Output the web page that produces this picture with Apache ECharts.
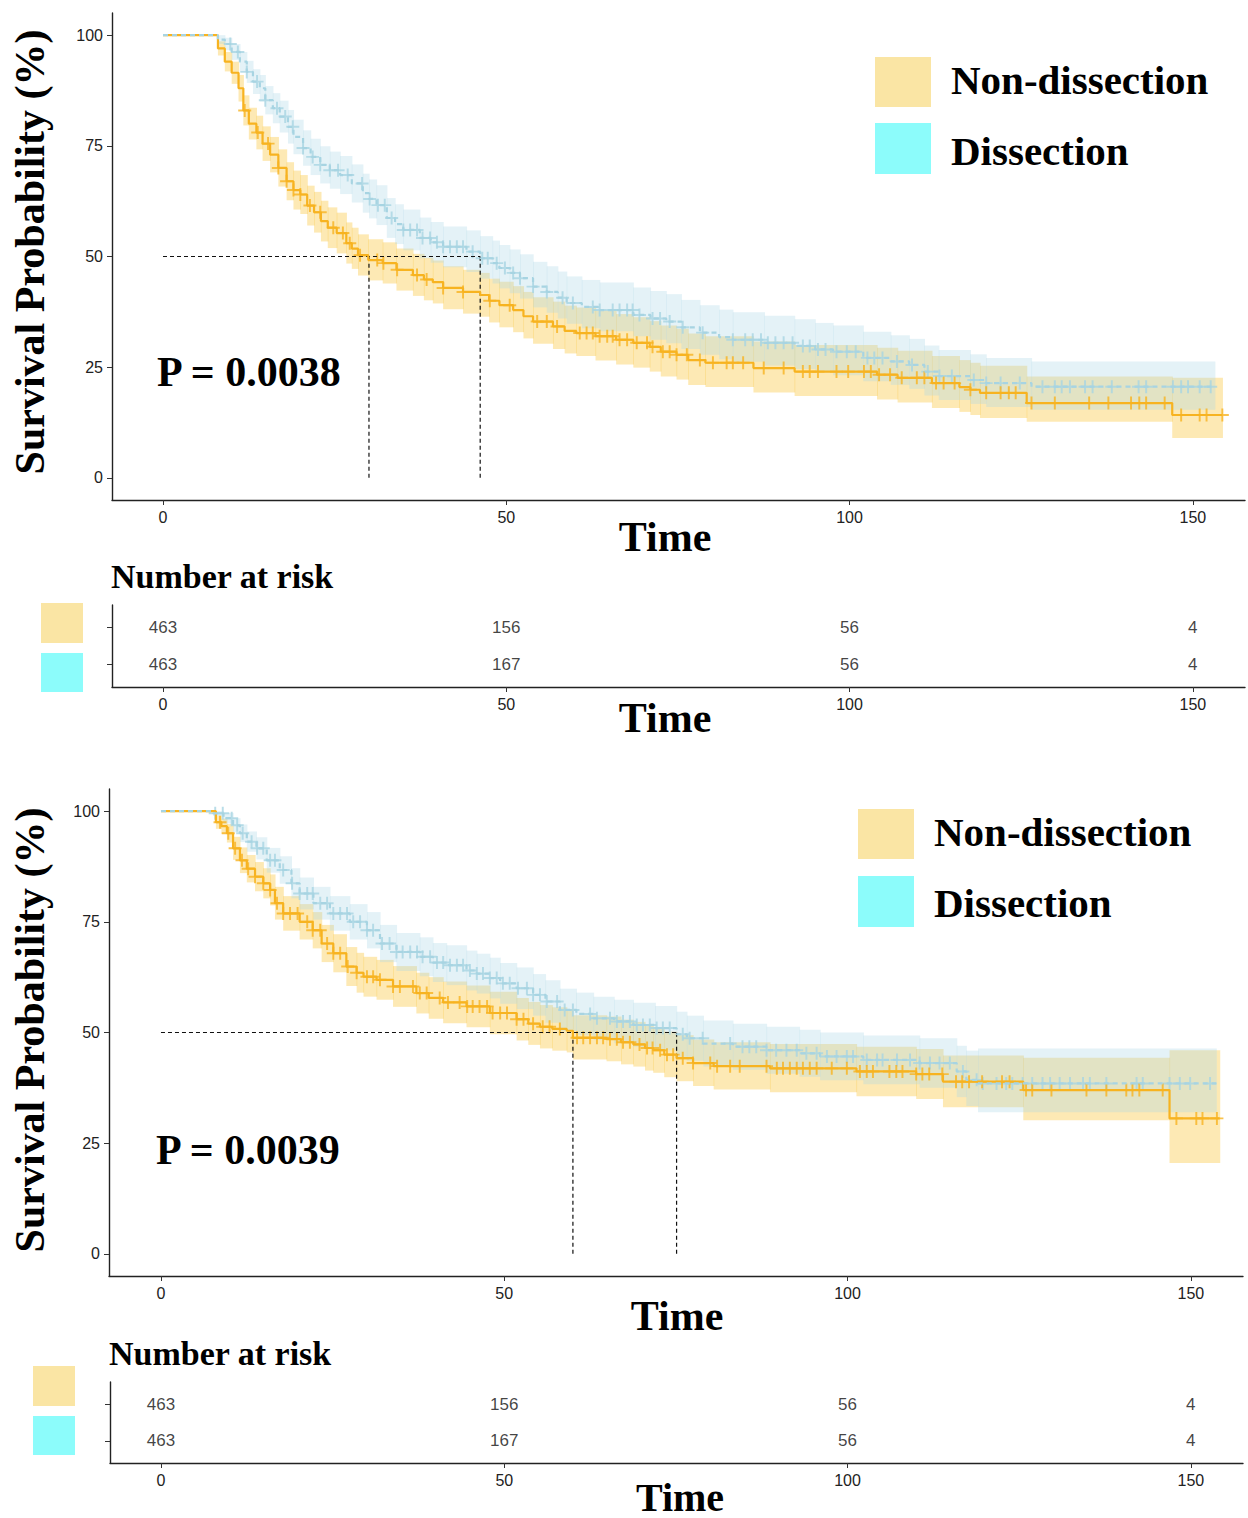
<!DOCTYPE html>
<html>
<head>
<meta charset="utf-8">
<title>Survival curves</title>
<script src="https://cdn.jsdelivr.net/npm/echarts@6/dist/echarts.min.js"></script>
<style>
html, body { margin: 0; padding: 0; background: #fff; }
#chart { width: 1248px; height: 1518px; }
</style>
</head>
<body>
<div id="chart"></div>
<script>
// ---- plot 1 : non-dissection ----
const non1Time = [0, 8, 9, 10, 11, 11.7, 12.5, 13.6, 14.5, 15.6, 16.8, 18, 19, 20, 21, 22, 23, 24, 25.3, 26.7, 27.5, 28.4, 29.9, 32, 34, 36.4, 38, 39.3, 40.8, 43.7, 46.2, 47.5, 49, 51, 52.5, 53.9, 56.8, 58.5, 60.2, 63, 66, 68.5, 70.9, 72.5, 74.8, 76.5, 79, 86, 92, 104, 107, 112, 116, 117.6, 119, 125.8, 147]
const non1Surv = [100, 97, 94, 91.5, 88, 83, 80, 78, 75.5, 73, 70, 67, 65, 64, 61.5, 60, 58, 56.5, 55.3, 53, 51.8, 50.3, 49.2, 48.5, 47, 45.8, 44.8, 44.2, 42.9, 42, 41.3, 40, 39, 37.9, 36.5, 35.3, 34.2, 33.2, 32.7, 32, 31.2, 30.5, 29.6, 28.5, 27.8, 26.6, 26, 24.8, 24, 23.3, 22.6, 21.4, 20.5, 19.9, 19.2, 16.9, 14.2]
const non1Low = [100, 95.4, 91.8, 89, 85, 79.6, 76.4, 74.2, 71.6, 69, 65.8, 62.7, 60.6, 59.6, 57, 55.4, 53.4, 51.9, 50.7, 48.4, 47.2, 45.7, 44.6, 43.9, 42.3, 41.1, 40.1, 39.4, 38.1, 37.1, 36.4, 35.1, 34, 32.9, 31.5, 30.3, 29.1, 28.1, 27.5, 26.5, 25.6, 24.9, 24, 22.9, 22.2, 21, 20.5, 19.3, 18.5, 17.7, 17, 15.8, 14.9, 14.2, 13.5, 12.7, 9]
const non1High = [100, 98.6, 96.2, 94, 91, 86.4, 83.6, 81.8, 79.4, 77, 74.2, 71.3, 69.4, 68.4, 66, 64.6, 62.6, 61.1, 59.9, 57.7, 56.5, 55, 53.9, 53.2, 51.8, 50.6, 49.7, 49.1, 47.8, 47, 46.3, 45, 44.3, 43.3, 42, 40.8, 39.8, 38.9, 38.5, 37.8, 37, 36.3, 35.4, 34.4, 33.7, 32.6, 32, 30.8, 30, 29.4, 28.7, 27.5, 26.6, 26, 25.3, 22.9, 22.6]
const non1End = 154.3
const non1Cens = [11.9, 13.8, 15.3, 16.8, 18, 19, 20, 21.4, 22.9, 24.8, 26.2, 27.2, 28.7, 31.2, 32.1, 34.1, 37, 38.4, 40.8, 43.7, 47.6, 50.5, 54.5, 55.9, 57.4, 60.7, 61.7, 62.6, 63.6, 64.7, 65.5, 66.5, 67.6, 69, 70.5, 71.3, 72.8, 73.8, 74.8, 76.3, 78.2, 80.1, 82.1, 83, 84.5, 87.5, 90.4, 93.2, 94.2, 95.4, 98.1, 99.8, 102.1, 103.1, 104.3, 105.9, 107.6, 109.8, 110.9, 112.6, 113.7, 115.3, 117.6, 119.9, 122, 123.2, 124.2, 126.5, 129.9, 134.9, 137.7, 141, 142.2, 143.2, 145.9, 148.3, 151, 152, 154.3]

// ---- plot 1 : dissection ----
const dis1Time = [0, 8, 9, 10, 11.2, 12.2, 13.1, 14.1, 14.9, 16, 17, 18.2, 19, 20.4, 21.5, 22.9, 24.3, 25.8, 27.5, 29.1, 30, 31.1, 32.6, 33.8, 35, 37.4, 39, 40.8, 44.2, 46.2, 48, 49, 50.5, 52, 53.9, 55.9, 57.5, 58.8, 61, 63.6, 68.5, 71, 73.3, 75.5, 78.2, 81, 83, 87.6, 92, 95, 97.6, 102, 106, 108.7, 110.9, 113, 117.6, 119.9, 126.5]
const dis1Surv = [100, 99, 98, 96.2, 94, 91.7, 89.5, 88, 85.3, 83.5, 81.6, 79.3, 77, 74.5, 72.5, 70.7, 69.5, 68.4, 66.5, 64.3, 63, 61.6, 58.7, 57.3, 56, 54.2, 53.2, 52.2, 51.1, 49.6, 48.5, 47.4, 46.3, 45.1, 43.2, 42, 40.7, 39.5, 38.6, 37.9, 36.8, 36, 35.3, 34, 32.8, 31.8, 31.2, 30.5, 29.8, 29, 28.5, 27.1, 26.3, 25.5, 24, 23, 22.1, 21.4, 20.6]
const dis1Low = [100, 98, 96.6, 94.4, 91.8, 89.2, 86.7, 85, 82.1, 80.1, 78, 75.5, 73.1, 70.5, 68.4, 66.5, 65.3, 64.1, 62.2, 59.9, 58.6, 57.1, 54.2, 52.8, 51.4, 49.6, 48.6, 47.6, 46.5, 45, 43.9, 42.8, 41.7, 40.5, 38.5, 37.3, 36, 34.8, 33.8, 33.1, 32, 31.2, 30.4, 29.1, 27.8, 26.8, 26.2, 25.4, 24.6, 23.8, 23.2, 21.8, 21, 20.1, 18.6, 17.6, 16.7, 16, 15.4]
const dis1High = [100, 100, 99.4, 98, 96.2, 94.2, 92.3, 91, 88.5, 86.9, 85.2, 83.1, 80.9, 78.5, 76.6, 74.9, 73.7, 72.7, 70.8, 68.7, 67.4, 66.1, 63.2, 61.8, 60.6, 58.8, 57.8, 56.8, 55.9, 54.6, 53.6, 52.6, 51.6, 50.5, 48.8, 47.8, 46.6, 45.5, 44.7, 44.1, 43, 42.2, 41.5, 40.2, 39, 38, 37.4, 36.6, 35.8, 35, 34.4, 33, 32.2, 31.4, 29.9, 28.9, 27.9, 27.1, 26.3]
const dis1End = 153.2
const dis1Cens = [9.8, 10.9, 12.2, 13.7, 14.9, 16.6, 17.8, 18.9, 20.4, 21.8, 22.9, 24.3, 25.5, 26.9, 29, 30.1, 31.3, 32.3, 33.3, 35, 36, 37, 37.8, 38.9, 39.9, 40.8, 41.8, 42.8, 43.7, 45.1, 46.5, 47.3, 48.6, 49.8, 51, 52, 53.9, 55.9, 58.2, 59.7, 62.6, 63.6, 65.5, 66.5, 67.6, 68.4, 69.4, 71.3, 72.4, 73.8, 75.7, 78.6, 83, 84.8, 85.9, 87.1, 88.1, 89.2, 90.4, 91.7, 93.2, 94.2, 95.4, 96.5, 98.1, 99.6, 100.9, 102.6, 103.6, 104.8, 106.9, 109.1, 111.4, 113.1, 114.9, 118.1, 119.9, 122, 124.8, 128.1, 129.9, 130.9, 132.1, 134.3, 135.4, 138.2, 142.1, 143.2, 147.1, 148.3, 149.3, 151, 152.6]

// ---- plot 2 : non-dissection ----
const non2Time = [0, 8, 8.8, 9.6, 10.5, 11.5, 12.5, 13.7, 14.9, 15.9, 16.6, 17.8, 20.2, 22.1, 23.4, 25.1, 27, 28.5, 29.5, 31.4, 33.8, 37.2, 39, 41.1, 44.5, 47.9, 51.8, 53.5, 55.2, 57, 59.1, 60, 64.9, 67, 68.8, 70.5, 71.7, 73.3, 75.1, 77.5, 80.5, 88.7, 101.3, 110, 113.9, 125.6, 146.9]
const non2Surv = [100, 97.5, 96.6, 95, 91.6, 88.9, 87, 85.2, 83.7, 82.2, 79.2, 76.9, 75, 73.1, 70.1, 67.9, 64.9, 63.5, 62.6, 61.9, 60.4, 58.9, 57.8, 56.8, 55.9, 54.4, 53, 52, 51.3, 50.8, 50.4, 48.8, 48.5, 47.8, 47.3, 46.5, 46, 45, 44.2, 43.1, 42.4, 41.9, 41.2, 40.6, 38.9, 37, 30.6]
const non2Low = [100, 96, 94.9, 92.9, 89, 86, 83.9, 81.9, 80.3, 78.7, 75.5, 73, 71, 69, 65.9, 63.6, 60.5, 59, 58.1, 57.4, 55.8, 54.3, 53.1, 52.1, 51.2, 49.6, 48.2, 47.2, 46.4, 45.9, 45.5, 43.9, 43.5, 42.8, 42.3, 41.4, 40.9, 39.9, 39, 37.9, 37.1, 36.5, 35.6, 35, 33.1, 30.2, 20.5]
const non2High = [100, 99, 98.3, 97.1, 94.2, 91.8, 90.1, 88.5, 87.1, 85.7, 82.9, 80.8, 79, 77.2, 74.3, 72.2, 69.3, 68, 67.1, 66.4, 65, 63.5, 62.5, 61.5, 60.6, 59.2, 57.8, 56.9, 56.2, 55.7, 55.3, 53.9, 53.6, 52.9, 52.4, 51.6, 51.2, 50.2, 49.4, 48.4, 47.8, 47.4, 46.8, 46.3, 44.8, 44.3, 46]
const non2End = 154.2
const non2Cens = [8.6, 9.8, 10.8, 11.8, 12.7, 13.7, 14.9, 15.9, 16.9, 17.8, 18.8, 19.9, 21.3, 22.1, 23.2, 24.2, 25.1, 26.1, 27.2, 28.5, 30, 30.9, 31.9, 33.8, 34.8, 36.7, 37.7, 38.7, 40.6, 41.8, 43.5, 44.6, 45.4, 46.4, 47.5, 48.3, 49.4, 50.4, 51.8, 52.8, 54.2, 55.6, 56.6, 58.1, 60.6, 61.5, 62.5, 63.5, 64.4, 65.4, 66.4, 67.3, 68.3, 69.7, 70.8, 71.6, 72.7, 73.7, 74.6, 76, 77.5, 80, 81, 82.9, 84.3, 88.2, 89.7, 90.6, 91.6, 92.6, 93.5, 94.5, 95.5, 97.7, 99.9, 101.8, 102.8, 103.7, 106.1, 107.1, 108, 110, 110.9, 111.9, 113.8, 115.8, 116.7, 117.7, 119.6, 122.5, 123.6, 126, 126.9, 129.7, 134.8, 137.7, 140.6, 141.5, 142.5, 145.9, 147.9, 150.8, 151.7, 153.8]

// ---- plot 2 : dissection ----
const dis2Time = [0, 7.6, 9.1, 10.5, 11.5, 12.5, 13.9, 15.4, 17.3, 19, 20.2, 22.2, 24.6, 27.5, 30, 31.9, 34.3, 37.7, 39.6, 41.6, 44.5, 46, 47.9, 49.4, 51.8, 54.2, 56, 58.1, 60.5, 63, 66, 68.8, 72, 75.1, 76.6, 79, 83.3, 88.2, 93, 96, 102.3, 110.5, 115.9, 117.3, 119]
const dis2Surv = [100, 99.5, 98.4, 96.8, 95, 93.1, 91.6, 88.9, 86.7, 83.7, 81.4, 79.2, 76.9, 75, 73.1, 70.1, 68.2, 67.1, 65.8, 65.2, 64, 63.3, 62.3, 61.1, 60, 58.5, 57, 55.1, 54.2, 53.2, 52.5, 51.7, 51, 49.6, 48.7, 47.5, 46.8, 46, 45.3, 44.6, 43.8, 43.1, 41.2, 39.3, 38.5]
const dis2Low = [100, 98.9, 97.2, 95.2, 93, 90.8, 89.1, 86.1, 83.6, 80.3, 77.8, 75.5, 73, 71, 69, 65.9, 63.9, 62.7, 61.4, 60.7, 59.5, 58.8, 57.7, 56.5, 55.3, 53.8, 52.2, 50.3, 49.4, 48.3, 47.6, 46.8, 46, 44.5, 43.6, 42.3, 41.6, 40.7, 40, 39.2, 38.3, 37.5, 35.4, 33.4, 32]
const dis2High = [100, 100, 99.6, 98.4, 97, 95.4, 94.1, 91.7, 89.8, 87.1, 85, 82.9, 80.8, 79, 77.2, 74.3, 72.5, 71.5, 70.2, 69.7, 68.5, 67.8, 66.9, 65.7, 64.7, 63.2, 61.8, 59.9, 59, 58.1, 57.4, 56.7, 56, 54.7, 53.8, 52.7, 52, 51.3, 50.6, 50, 49.3, 48.7, 47, 45.9, 46.4]
const dis2End = 153.7
const dis2Cens = [7.9, 9, 10.3, 11.1, 11.9, 13.2, 14, 14.9, 15.9, 16.6, 17.8, 19.1, 20.2, 21.3, 22.1, 23.2, 24.2, 25.1, 26.1, 27.1, 28, 29, 30, 30.9, 32.2, 33.3, 34.3, 35.2, 36.3, 37.3, 38.1, 39.2, 40.2, 41.1, 42.1, 43.1, 44, 45, 46, 46.9, 47.9, 48.9, 49.8, 50.8, 52, 53.3, 54.2, 55.2, 56.2, 57.7, 58.8, 60, 62.5, 63.5, 65.4, 66.4, 67.3, 68.3, 69.3, 70.2, 71.2, 72.2, 73.1, 74.1, 76, 77, 78.9, 82.9, 84.7, 85.7, 86.7, 88.2, 89.6, 91.1, 92.6, 94, 95.5, 97, 98.4, 99.9, 100.8, 102.8, 104.3, 105.1, 107.2, 109.1, 110.5, 112, 113.4, 114.9, 116.8, 118.8, 119.7, 121.7, 123.1, 124, 125.5, 126.9, 128.4, 129.5, 130.9, 132.4, 134.3, 135.3, 137.7, 142.1, 143, 146.9, 148.4, 149.9, 152.8]

// medians [non-dissection, dissection]
const medians1 = [30, 46.2]
const medians2 = [60, 75.1]
const pValues = ['P = 0.0038', 'P = 0.0039']

// number at risk
const riskTimes = [0, 50, 100, 150]
const riskNon = [463, 156, 56, 4]
const riskDis = [463, 167, 56, 4]

const xTicks = [0, 50, 100, 150]
const yTicks = [0, 25, 50, 75, 100]

const orange = '#F7B320'
const blue = '#A7D4E2'
const serif = 'Liberation Serif'
const sans = 'Liberation Sans'
// "+" censor mark
const plus = 'path://M5.1,0h1.8v5.1h5.1v1.8h-5.1v5.1h-1.8v-5.1h-5.1v-1.8h5.1z'

function stepLine(time, surv, end) {
  const d = time.map((t, i) => [t, surv[i]])
  d.push([end, surv[surv.length - 1]])
  return d
}
function bandRows(time, low, high, end) {
  return time.map((t, i) => [t, i + 1 < time.length ? time[i + 1] : end, low[i], high[i]])
}
function survAt(time, surv, t) {
  let s = surv[0]
  for (let i = 0; i < time.length; i++) {
    if (time[i] <= t) s = surv[i]
  }
  return s
}
function bandSeries(idx, rows, fill) {
  return {
    type: 'custom', xAxisIndex: idx, yAxisIndex: idx, silent: true,
    encode: { x: [0, 1], y: [2, 3] },
    data: rows,
    renderItem(params, api) {
      const p1 = api.coord([api.value(0), api.value(3)])
      const p2 = api.coord([api.value(1), api.value(2)])
      return {
        type: 'rect',
        shape: { x: p1[0], y: p1[1], width: p2[0] - p1[0] + 0.6, height: p2[1] - p1[1] },
        style: { fill: fill }
      }
    }
  }
}

function plotSeries(idx, non, dis, med) {
  const list = []
  list.push(bandSeries(idx, bandRows(non.time, non.low, non.high, non.end), 'rgba(248,182,8,0.30)'))
  list.push(bandSeries(idx, bandRows(dis.time, dis.low, dis.high, dis.end), 'rgba(173,216,230,0.33)'))
  const medStyle = { color: '#111', width: 1.2, type: [4, 3] }
  list.push({ type: 'line', xAxisIndex: idx, yAxisIndex: idx, symbol: 'none', silent: true,
    lineStyle: medStyle, data: [[0, 50], [Math.max(med[0], med[1]), 50]] })
  med.forEach(m => {
    list.push({ type: 'line', xAxisIndex: idx, yAxisIndex: idx, symbol: 'none', silent: true,
      lineStyle: medStyle, data: [[m, 0], [m, 50]] })
  })
  list.push({ type: 'line', name: 'Non-dissection', xAxisIndex: idx, yAxisIndex: idx, step: 'end',
    symbol: 'none', lineStyle: { color: orange, width: 2.2 }, data: stepLine(non.time, non.surv, non.end) })
  list.push({ type: 'line', name: 'Dissection', xAxisIndex: idx, yAxisIndex: idx, step: 'end',
    symbol: 'none', lineStyle: { color: blue, width: 2.2, type: [5, 4] }, data: stepLine(dis.time, dis.surv, dis.end) })
  list.push({ type: 'scatter', xAxisIndex: idx, yAxisIndex: idx, symbol: plus, symbolSize: 13,
    itemStyle: { color: blue }, data: dis.cens.map(t => [t, survAt(dis.time, dis.surv, t)]) })
  list.push({ type: 'scatter', xAxisIndex: idx, yAxisIndex: idx, symbol: plus, symbolSize: 13,
    itemStyle: { color: orange }, data: non.cens.map(t => [t, survAt(non.time, non.surv, t)]) })
  return list
}

function riskSeries(idx) {
  const rows = []
  riskTimes.forEach((t, i) => {
    rows.push([t, 1, riskNon[i]])
    rows.push([t, 0, riskDis[i]])
  })
  return {
    type: 'scatter', xAxisIndex: idx, yAxisIndex: idx, symbolSize: 0, silent: true,
    data: rows,
    label: { show: true, position: 'inside', formatter: p => p.value[2],
      fontFamily: sans, fontSize: 17, color: '#111' }
  }
}

function xAxisCfg(idx, min) {
  return {
    type: 'value', gridIndex: idx, min: min, max: 157.6,
    axisLine: { onZero: false, lineStyle: { color: '#222', width: 1.4 } },
    axisTick: { customValues: xTicks, length: 5, lineStyle: { color: '#333' } },
    axisLabel: { customValues: xTicks, fontFamily: sans, fontSize: 16, color: '#222', margin: 9 },
    splitLine: { show: false }
  }
}
function yPlotCfg(idx) {
  return {
    type: 'value', gridIndex: idx, min: -5, max: 105,
    axisLine: { show: true, onZero: false, lineStyle: { color: '#222', width: 1.4 } },
    axisTick: { show: true, customValues: yTicks, length: 5, lineStyle: { color: '#333' } },
    axisLabel: { customValues: yTicks, fontFamily: sans, fontSize: 16, color: '#222', margin: 9 },
    splitLine: { show: false }
  }
}
function yRiskCfg(idx) {
  return {
    type: 'value', gridIndex: idx, min: -0.6, max: 1.6,
    axisLine: { show: true, onZero: false, lineStyle: { color: '#222', width: 1.4 } },
    axisTick: { show: true, customValues: [0, 1], length: 5, lineStyle: { color: '#333' } },
    axisLabel: { show: false },
    splitLine: { show: false }
  }
}

function title(text, x, y, size, extra) {
  return Object.assign({ type: 'text', x: x, y: y,
    style: { text: text, fontFamily: serif, fontWeight: 'bold', fontSize: size, fill: '#000',
      align: 'center', verticalAlign: 'middle' } }, extra || {})
}
function leftText(text, x, y, size) {
  return { type: 'text', x: x, y: y,
    style: { text: text, fontFamily: serif, fontWeight: 'bold', fontSize: size, fill: '#000',
      align: 'left', verticalAlign: 'middle' } }
}
function box(x, y, w, h, fill) {
  return { type: 'rect', shape: { x: x, y: y, width: w, height: h }, style: { fill: fill } }
}

const keyOrange = '#FAE5A4'
const keyCyan = '#8CFCFB'

const graphics = [
  // plot 1
  title('Survival Probability (%)', 30, 252, 42, { rotation: Math.PI / 2 }),
  title('Time', 665, 537, 42),
  leftText(pValues[0], 157, 372, 42),
  box(875, 57, 56, 50, keyOrange), box(875, 123, 56, 51, keyCyan),
  leftText('Non-dissection', 951, 80, 41), leftText('Dissection', 951, 151, 41),
  leftText('Number at risk', 111, 576, 34),
  box(41, 603, 42, 40, keyOrange), box(41, 653, 42, 39, keyCyan),
  title('Time', 665, 718, 42),
  // plot 2
  title('Survival Probability (%)', 30, 1030, 42, { rotation: Math.PI / 2 }),
  title('Time', 677, 1316, 42),
  leftText(pValues[1], 156, 1150, 42),
  box(858, 809, 56, 50, keyOrange), box(858, 876, 56, 51, keyCyan),
  leftText('Non-dissection', 934, 832, 41), leftText('Dissection', 934, 903, 41),
  leftText('Number at risk', 109, 1353, 34),
  box(33, 1366, 42, 40, keyOrange), box(33, 1416, 42, 39, keyCyan),
  title('Time', 680, 1497, 40)
]

const chart = echarts.init(document.getElementById('chart'), null, { renderer: 'svg' })
chart.setOption({
  animation: false,
  backgroundColor: '#fff',
  grid: [
    { left: 112, top: 13, width: 1133, height: 487 },
    { left: 112, top: 605, width: 1133, height: 82 },
    { left: 109, top: 789, width: 1134, height: 487 },
    { left: 110, top: 1382, width: 1133, height: 81 }
  ],
  xAxis: [xAxisCfg(0, -7.43), xAxisCfg(1, -7.43), xAxisCfg(2, -7.57), xAxisCfg(3, -7.43)],
  yAxis: [yPlotCfg(0), yRiskCfg(1), yPlotCfg(2), yRiskCfg(3)],
  series: [].concat(
    plotSeries(0,
      { time: non1Time, surv: non1Surv, low: non1Low, high: non1High, end: non1End, cens: non1Cens },
      { time: dis1Time, surv: dis1Surv, low: dis1Low, high: dis1High, end: dis1End, cens: dis1Cens },
      medians1),
    [riskSeries(1)],
    plotSeries(2,
      { time: non2Time, surv: non2Surv, low: non2Low, high: non2High, end: non2End, cens: non2Cens },
      { time: dis2Time, surv: dis2Surv, low: dis2Low, high: dis2High, end: dis2End, cens: dis2Cens },
      medians2),
    [riskSeries(3)]
  ),
  graphic: graphics
})
</script>
</body>
</html>
